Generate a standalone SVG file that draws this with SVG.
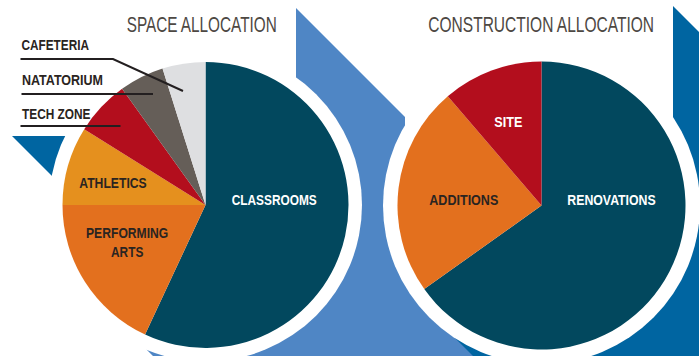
<svg xmlns="http://www.w3.org/2000/svg" width="699" height="356" viewBox="0 0 699 356">
<style>
.lbl{font-family:"Liberation Sans","DejaVu Sans",sans-serif;font-weight:bold;font-size:15px;}
.dk{fill:#2A2421;}
.wt{fill:#FFFFFF;}
.ttl{font-family:"Liberation Sans","DejaVu Sans",sans-serif;font-size:22.5px;fill:#4D4843;}
.teal{fill:#02485E;}
.orange{fill:#E3701E;}
.amber{fill:#E5901E;}
.red{fill:#B30E1D;}
.brown{fill:#655E58;}
.lgray{fill:#DEDFE1;}
.leader{fill:none;stroke:#231F20;stroke-width:2;}
</style>
<rect width="699" height="356" fill="#FFFFFF"/>
<g id="background">
<polygon points="296,8 405,117 405,210 520,300 480,356 153,356 140,343 250,250 296,77" fill="#4F86C5"/>
<polygon points="673,6 699,32 699,356 473,356 430,313 600,200 673,130" fill="#0065A1"/>
<polygon points="12,136 100,136 100,224" fill="#0065A1"/>
<circle cx="205.5" cy="205" r="156.5" fill="#FFFFFF"/>
<circle cx="541.5" cy="205.5" r="158.5" fill="#FFFFFF"/>
</g>
<g id="space-allocation">
<text class="ttl" transform="scale(0.66,1)" x="191.97" y="32.3" textLength="227.3" lengthAdjust="spacingAndGlyphs">SPACE ALLOCATION</text>
<g id="classrooms"><path class="teal" d="M205.5,205 L205.5,62 A143,143 0 1 1 145.07,334.6 Z"/><text class="lbl wt" x="231.7" y="205" textLength="85" lengthAdjust="spacingAndGlyphs">CLASSROOMS</text></g>
<g id="performing-arts"><path class="orange" d="M205.5,205 L145.07,334.6 A143,143 0 0 1 62.5,205 Z"/><text class="lbl dk" x="86" y="238.3" textLength="82.3" lengthAdjust="spacingAndGlyphs">PERFORMING</text><text class="lbl dk" x="111" y="257" textLength="32.3" lengthAdjust="spacingAndGlyphs">ARTS</text></g>
<g id="athletics"><path class="amber" d="M205.5,205 L62.5,205 A143,143 0 0 1 84.23,129.22 Z"/><text class="lbl dk" x="79.3" y="188.3" textLength="67.4" lengthAdjust="spacingAndGlyphs">ATHLETICS</text></g>
<g id="tech-zone"><path class="red" d="M205.5,205 L84.23,129.22 A143,143 0 0 1 122.06,88.87 Z"/><text class="lbl dk" x="22" y="118.7" textLength="68.5" lengthAdjust="spacingAndGlyphs">TECH ZONE</text></g>
<g id="natatorium"><path class="brown" d="M205.5,205 L122.06,88.87 A143,143 0 0 1 162.5,68.62 Z"/><text class="lbl dk" x="22" y="85" textLength="81" lengthAdjust="spacingAndGlyphs">NATATORIUM</text></g>
<g id="cafeteria"><path class="lgray" d="M205.5,205 L162.5,68.62 A143,143 0 0 1 205.5,62 Z"/><text class="lbl dk" x="21.5" y="50" textLength="67.5" lengthAdjust="spacingAndGlyphs">CAFETERIA</text></g>
</g>
<g id="construction-allocation">
<text class="ttl" transform="scale(0.66,1)" x="648.94" y="32.3" textLength="341.97" lengthAdjust="spacingAndGlyphs">CONSTRUCTION ALLOCATION</text>
<g id="renovations"><path class="teal" d="M541.5,205.5 L541.5,61.5 A144,144 0 1 1 424.27,289.12 Z"/><text class="lbl wt" x="567.3" y="205" textLength="88.4" lengthAdjust="spacingAndGlyphs">RENOVATIONS</text></g>
<g id="additions"><path class="orange" d="M541.5,205.5 L424.27,289.12 A144,144 0 0 1 447.78,96.16 Z"/><text class="lbl dk" x="429.3" y="205" textLength="69" lengthAdjust="spacingAndGlyphs">ADDITIONS</text></g>
<g id="site"><path class="red" d="M541.5,205.5 L447.78,96.16 A144,144 0 0 1 541.5,61.5 Z"/><text class="lbl wt" x="494.3" y="127.3" textLength="28" lengthAdjust="spacingAndGlyphs">SITE</text></g>
</g>
<g id="connectors">
<polyline class="leader" points="20.5,59 113,59 183,91"/>
<line class="leader" x1="21.5" y1="94" x2="153" y2="94"/>
<line class="leader" x1="20.5" y1="126" x2="120.5" y2="126"/>
</g>
</svg>
